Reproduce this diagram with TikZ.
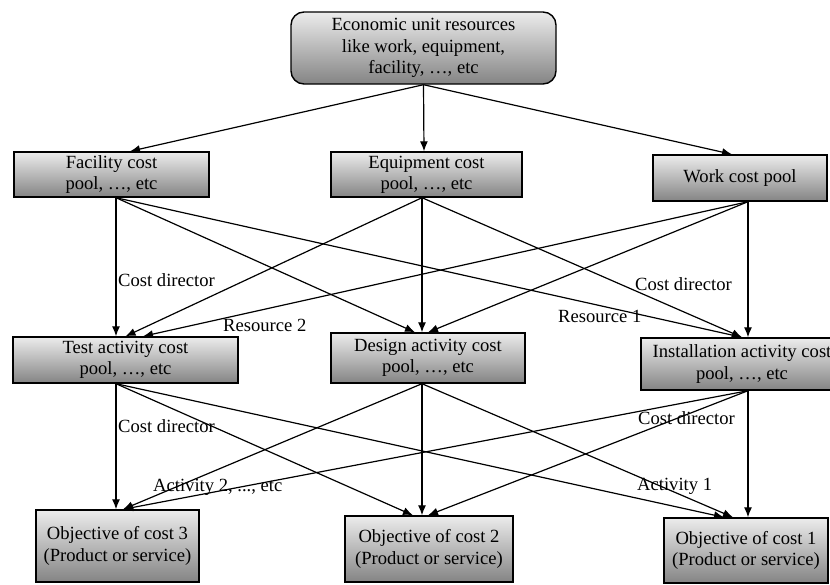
\documentclass[tikz,border=0pt]{standalone}
\usepackage{fontspec}
\setmainfont{Liberation Serif}
\usetikzlibrary{arrows.meta,calc}
\definecolor{gtop}{RGB}{236,236,236}
\definecolor{gbot}{RGB}{132,132,132}
\begin{document}
\begin{tikzpicture}[x=1pt,y=-1pt,
  box/.style={draw=black,line width=1.4pt,top color=gtop,bottom color=gbot,
    align=center,inner sep=0pt,font=\fontsize{18.6}{21.3}\selectfont},
  lbl/.style={anchor=base west,inner sep=0pt,font=\fontsize{18.6}{21.3}\selectfont},
  arr/.style={line width=1.2pt,-{Latex[length=10pt,width=8pt]}}]
\useasboundingbox (0,0) rectangle (830,584);
\clip (0,0) rectangle (830,584);
% boxes
\node[box,rounded corners=13pt,minimum width=265pt,minimum height=72pt] (top) at (423.5,48)
  {Economic unit resources\\like work, equipment,\\facility, …, etc};
\node[box,minimum width=195pt,minimum height=45pt] (fac) at (111.5,174.5) {Facility cost\\pool, …, etc};
\node[box,minimum width=191pt,minimum height=45pt] (equ) at (426.5,174.5) {Equipment cost\\pool, …, etc};
\node[box,minimum width=174pt,minimum height=46pt] (work) at (740,178) {Work cost pool};
\node[box,minimum width=225pt,minimum height=46pt] (test) at (125.5,360) {Test activity cost\\pool, …, etc};
\node[box,minimum width=194pt,minimum height=50pt] (design) at (428,358) {Design activity cost\\pool, …, etc};
\node[box,minimum width=202pt,minimum height=52pt] (inst) at (742,364) {Installation activity cost\\pool, …, etc};
\node[box,minimum width=163pt,minimum height=72pt] (obj3) at (117.5,546) {Objective of cost 3\\(Product or service)};
\node[box,minimum width=168pt,minimum height=66pt] (obj2) at (429,549) {Objective of cost 2\\(Product or service)};
\node[box,minimum width=164pt,minimum height=65pt] (obj1) at (746,550.5) {Objective of cost 1\\(Product or service)};
% top level arrows
\draw[arr] (top.south) -- ($(fac.north)+(18.5,0)$);
\draw[arr] (top.south) -- ($(equ.north)+(-2.5,0)$);
\draw[arr] (top.south) -- ($(work.north)+(-8,0)$);
% resource pools to activity pools
\draw[arr] ($(fac.south)+(4.5,0)$) -- ($(test.north)+(-9.5,0)$);
\draw[arr] ($(fac.south)+(4.5,0)$) -- ($(design.north)+(-13,0)$);
\draw[arr] ($(fac.south)+(4.5,0)$) -- (inst.north);
\draw[arr] ($(equ.south)+(-4.5,0)$) -- (test.north);
\draw[arr] ($(equ.south)+(-4.5,0)$) -- ($(design.north)+(-6,0)$);
\draw[arr] ($(equ.south)+(-4.5,0)$) -- (inst.north);
\draw[arr] ($(work.south)+(8,0)$) -- ($(test.north)+(17.5,0)$);
\draw[arr] ($(work.south)+(8,0)$) -- (design.north);
\draw[arr] ($(work.south)+(8,0)$) -- ($(inst.north)+(6,0)$);
% activity pools to objectives
\draw[arr] ($(test.south)+(-9.5,0)$) -- ($(obj3.north)+(-1.5,0)$);
\draw[arr] ($(test.south)+(-9.5,0)$) -- ($(obj2.north)+(-16,0)$);
\draw[arr] ($(test.south)+(-9.5,0)$) -- ($(obj1.north)+(-22,0)$);
\draw[arr] ($(design.south)+(-6,0)$) -- ($(obj3.north)+(5.5,0)$);
\draw[arr] ($(design.south)+(-6,0)$) -- ($(obj2.north)+(-7,0)$);
\draw[arr] ($(design.south)+(-6,0)$) -- ($(obj1.north)+(-13,0)$);
\draw[arr] ($(inst.south)+(6,0)$) -- ($(obj3.north)+(5.5,0)$);
\draw[arr] ($(inst.south)+(6,0)$) -- ($(obj2.north)+(-1,0)$);
\draw[arr] ($(inst.south)+(6,0)$) -- ($(obj1.north)+(2,0)$);
% labels
\node[lbl] (l1) at (118,286) {Cost director};
\node[lbl] (l2) at (223,331) {Resource 2};
\node[lbl] (l3) at (635,290) {Cost director};
\node[lbl] (l4) at (558,322) {Resource 1};
\node[lbl] (l5) at (118,432) {Cost director};
\node[lbl] (l6) at (638,424) {Cost director};
\node[lbl] (l7) at (153,491) {Activity 2, ..., etc};
\node[lbl] (l8) at (637,490) {Activity 1};
\end{tikzpicture}
\end{document}
